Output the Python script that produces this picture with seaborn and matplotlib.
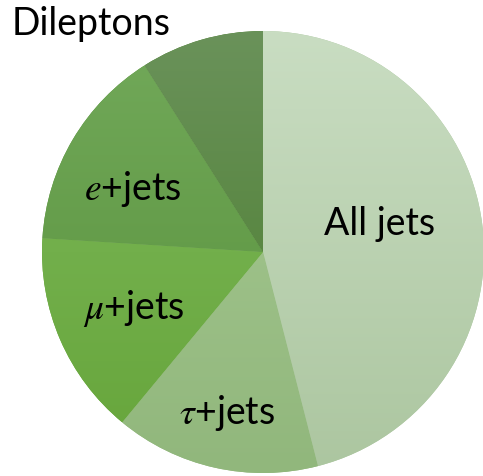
import numpy as np
import matplotlib
matplotlib.use("Agg")
import matplotlib.pyplot as plt
import matplotlib.colors as mcolors
import seaborn as sns

# Data
categories = ["All jets", r"$\tau$+jets", r"$\mu$+jets", r"$e$+jets", "Dileptons"]
shares = [46, 15, 15, 15, 9]

# Style: gradient colours (top, bottom) per slice
top_colors = ["#C9DDC2", "#A8CA94", "#7EB95C", "#72A95A", "#6A925A"]
bottom_colors = ["#ACC6A0", "#91B77C", "#66A53A", "#57903A", "#497C2B"]

sns.set_theme(style="white")
plt.rcParams["font.family"] = ["Lato", "DejaVu Sans"]
plt.rcParams["mathtext.fontset"] = "stix"

fig = plt.figure(figsize=(4.83, 4.77), dpi=100)
ax = fig.add_axes([0, 0, 1, 1])
R = 221.0
cx, cy = 263.0, 253.0
xlim = (-cx / R, (483 - cx) / R)
ylim = (-(477 - cy) / R, cy / R)

wedges, _ = ax.pie(shares, colors=bottom_colors, startangle=90, counterclock=False,
                   radius=1.0, center=(0, 0), frame=True,
                   wedgeprops=dict(linewidth=0))

# vertical gradient fill clipped to each wedge
for w, ct, cb in zip(wedges, top_colors, bottom_colors):
    ext = w.get_path().get_extents()
    y0, y1 = ext.y0, ext.y1
    t = np.linspace(1, 0, 64)[:, None]
    c1 = np.array(mcolors.to_rgb(ct))
    c2 = np.array(mcolors.to_rgb(cb))
    # colour as a function of absolute y in [-1, 1]
    ys = y1 - (y1 - y0) * np.linspace(0, 1, 64)
    f = ((1 - ys) / 2)[:, None]
    img = (c1[None, :] * (1 - f) + c2[None, :] * f)[:, None, :]
    im = ax.imshow(img, extent=(ext.x0, ext.x1, y0, y1), origin="upper",
                   aspect="auto", interpolation="bilinear", zorder=w.get_zorder() + 0.1)
    im.set_clip_path(w)

ax.set_xlim(*xlim)
ax.set_ylim(*ylim)
ax.set_aspect("equal")
ax.axis("off")

dists = [0.545, 0.74, 0.637, 0.657]
offs = [6.5, 0, 0, 4.4]
for w, lab, d, o in zip(wedges[:4], categories[:4], dists, offs):
    ang = np.deg2rad((w.theta1 + w.theta2) / 2 + o)
    ax.text(d * np.cos(ang), d * np.sin(ang), lab, ha="center", va="center",
            fontsize=27, color="black", zorder=10)

fig.text(12 / 483, 1 - 24 / 477, categories[4], ha="left", va="center",
         fontsize=27, color="black")

fig.savefig("out.png", dpi=100)
